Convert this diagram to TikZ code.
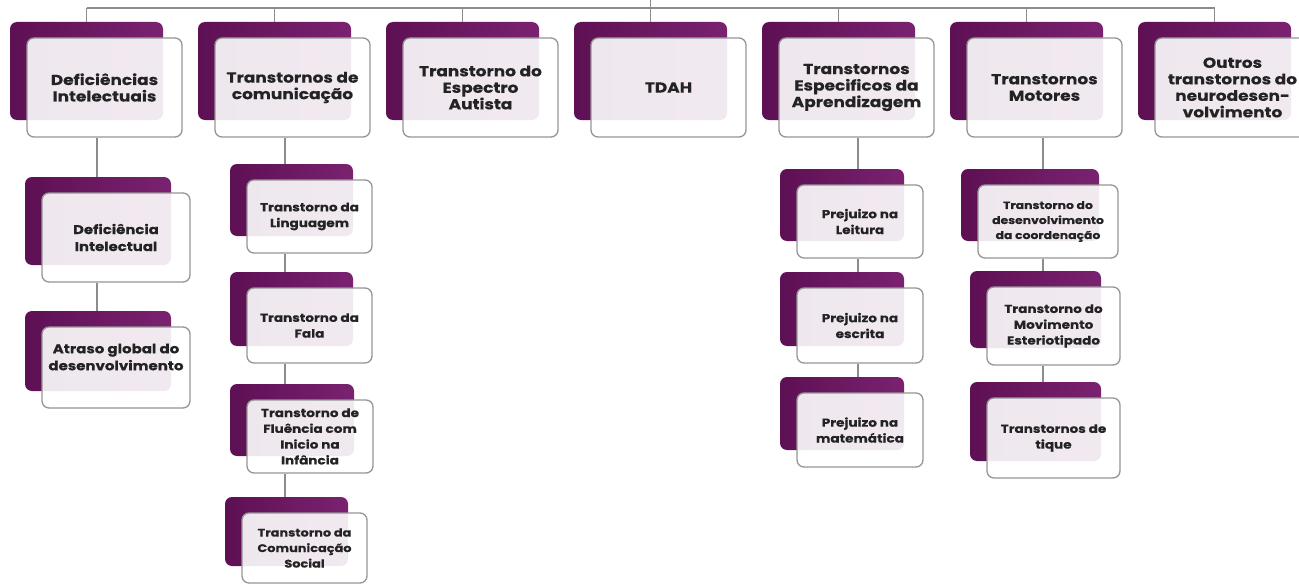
\documentclass[tikz,border=0pt]{standalone}
\usepackage{fontspec}
\setmainfont{Poppins}[FakeStretch=1.17, BoldFeatures={FakeBold=0.3}]
\definecolor{pdark}{RGB}{94,16,84}
\definecolor{plight}{RGB}{122,34,112}
\definecolor{bordergray}{RGB}{150,150,150}
\definecolor{linegray}{RGB}{140,140,140}
\definecolor{txt}{RGB}{35,35,35}
\newcommand\fTop{\fontsize{14.5}{16.5}\selectfont\bfseries}
\newcommand\fMid{\fontsize{12.7}{17}\selectfont\bfseries}
\newcommand\fAtr{\fontsize{12.8}{17}\selectfont\bfseries}
\newcommand\fSub{\fontsize{11.6}{15.8}\selectfont\bfseries}
\newcommand\fSubS{\fontsize{10.6}{15}\selectfont\bfseries}
\newcommand\fSubM{\fontsize{11}{15.5}\selectfont\bfseries}
\tikzset{
  conn/.style={draw=linegray, line width=1.4pt},
  backbox/.style={rectangle, rounded corners=7pt, left color=pdark, right color=plight, draw=none, inner sep=0pt},
  frontbox/.style={rectangle, rounded corners=7pt, fill=white, fill opacity=0.9, text opacity=1, draw=bordergray, line width=1.3pt, align=center, inner sep=0pt, text=txt},
}
% name, x1, y1, x2, y2 (front box), font, text
\newcommand\duo[7]{%
  \node[backbox, minimum width={(#4-#2-2)*1pt}, minimum height={(#5-#3-1)*1pt}] (b#1) at ({(#2+#4)/2-18},{(#3+#5)/2-16.5}) {};
  \node[frontbox, minimum width={(#4-#2)*1pt}, minimum height={(#5-#3)*1pt}, font=#6] (f#1) at ({(#2+#4)/2},{(#3+#5)/2}) {#7};
}
\begin{document}
\begin{tikzpicture}[x=1pt,y=-1pt]
\useasboundingbox (0,0) rectangle (1299,586);
\clip (0,0) rectangle (1299,586);
\fill[white] (0,0) rectangle (1299,586);

% top-level boxes
\duo{1}{27}{38}{182}{137}{\fTop}{Deficiências\\Intelectuais}
\duo{2}{215}{38}{370}{137}{\fTop}{Transtornos de\\comunicação}
\duo{3}{403}{38}{558}{137}{\fTop}{Transtorno do\\Espectro\\Autista}
\duo{4}{591}{38}{746}{137}{\fTop}{TDAH}
\duo{5}{779}{38}{934}{137}{\fTop}{Transtornos\\Especificos da\\Aprendizagem}
\duo{6}{967}{38}{1122}{137}{\fTop}{Transtornos\\Motores}
\duo{7}{1155}{38}{1310}{137}{\fTop}{Outros\\transtornos do\\neurodesen-\\volvimento}

% children
\duo{1a}{42}{193}{190}{282}{\fMid}{Deficiência\\Intelectual}
\duo{1b}{42}{327}{190}{408}{\fAtr}{Atraso global do\\desenvolvimento\\[4pt]}
\duo{2a}{247}{180}{372}{253}{\fSub}{Transtorno da\\Linguagem}
\duo{2b}{247}{288}{372}{363}{\fSub}{Transtorno da\\Fala}
\duo{2c}{247}{400}{373}{473}{\fSub}{Transtorno de\\Fluência com\\Inicio na\\Infância}
\duo{2d}{242}{513}{367}{583}{\fSubM}{Transtorno da\\Comunicação\\Social}
\duo{5a}{797}{185}{923}{258}{\fSub}{Prejuizo na\\Leitura}
\duo{5b}{797}{288}{923}{363}{\fSub}{Prejuizo na\\escrita}
\duo{5c}{797}{393}{923}{467}{\fSub}{Prejuizo na\\matemática}
\duo{6a}{978}{185}{1118}{258}{\fSubS}{Transtorno do\\desenvolvimento\\da coordenação}
\duo{6b}{987}{287}{1120}{365}{\fSub}{Transtorno do\\Movimento\\Esteriotipado}
\duo{6c}{987}{398}{1120}{478}{\fSub}{Transtornos de\\tique}

% connectors
\coordinate (bar) at (0,8);
\coordinate (root) at (0,0);
\draw[conn] (b1.north |- bar) -- (b7.north |- bar);
\draw[conn] (b4.north |- root) -- (b4.north);
\foreach \i in {1,2,3,5,6,7} { \draw[conn] (b\i.north |- bar) -- (b\i.north); }

\coordinate (k1) at (97,0);
\coordinate (k2) at (285,0);
\coordinate (k5) at (858,0);
\coordinate (k6) at (1043,0);
\draw[conn] (f1.south -| k1) -- (b1a.north -| k1);
\draw[conn] (f1a.south -| k1) -- (b1b.north -| k1);
\draw[conn] (f2.south -| k2) -- (b2a.north -| k2);
\draw[conn] (f2a.south -| k2) -- (b2b.north -| k2);
\draw[conn] (f2b.south -| k2) -- (b2c.north -| k2);
\draw[conn] (f2c.south -| k2) -- (b2d.north -| k2);
\draw[conn] (f5.south -| k5) -- (b5a.north -| k5);
\draw[conn] (f5a.south -| k5) -- (b5b.north -| k5);
\draw[conn] (f5b.south -| k5) -- (b5c.north -| k5);
\draw[conn] (f6.south -| k6) -- (b6a.north -| k6);
\draw[conn] (f6a.south -| k6) -- (b6b.north -| k6);
\draw[conn] (f6b.south -| k6) -- (b6c.north -| k6);
\end{tikzpicture}
\end{document}
